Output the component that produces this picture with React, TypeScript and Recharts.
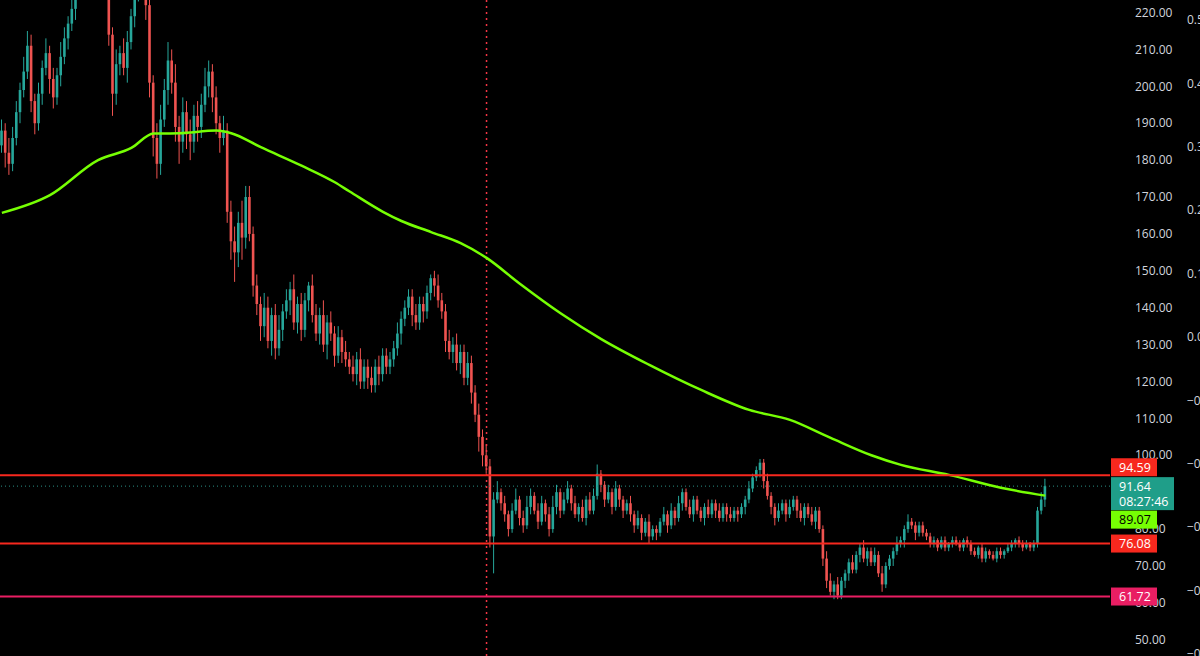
import React from 'react';
import { ComposedChart, Bar, Line, XAxis, YAxis, ReferenceLine } from 'recharts';

// ---- data ----
const OPEN0 = 184;
const closes: number[] = [
  188, 182, 179, 186,
  193, 199, 204,
  211, 196, 190,
  198, 205, 209, 202, 197, 203, 208,
  213, 217, 221, 226,
  229, 233, 231, 236, 234, 230, 233, 228,
  214, 198, 206,
  209, 205, 212, 219, 226,
  229, 227, 222,
  201, 186, 179,
  191, 199, 207, 201,
  189, 185, 193, 187, 185, 192, 189,
  195, 200, 204, 197,
  190, 186, 188,
  166,
  158, 155, 163, 159, 170,
  160, 146,
  141, 135, 140, 131, 138, 129, 134,
  139, 142, 145, 136, 141, 134, 142, 146, 138,
  133, 138, 130, 136, 133, 127, 132, 128, 126,
  124, 122, 126, 120, 124, 121, 119, 124, 122, 127, 124, 126,
  129, 133, 137, 140, 143,
  138, 136, 141, 139,
  144, 148, 146, 142,
  139, 131, 128,
  130, 125, 128, 121, 125,
  117, 111, 105, 100, 97,
  78,
  88, 90, 87, 84, 80, 85, 88, 83, 81, 86, 89, 85, 82, 87, 84, 80, 86, 90, 85, 88, 91,
  87, 84, 86, 83, 88, 85, 89,
  95, 92,
  88, 90, 86, 91, 88, 85,
  87, 84, 81, 83, 79, 82, 78, 80, 79,
  82, 84, 81, 85, 83, 87, 90, 86, 84, 88, 85,
  83, 86, 84, 87, 85, 83, 86, 84, 83, 85, 84,
  86, 88, 91, 94, 96, 98,
  93, 89, 86,
  83, 85, 87, 84, 86, 88, 85, 83, 86, 84, 82, 85,
  80, 72, 66,
  63, 65, 62, 66, 68,
  71, 69, 73, 75, 72, 74, 71, 73,
  68, 65, 70,
  72, 74, 76, 77, 80, 82, 81, 79, 81, 79,
  78, 76, 77, 75, 77, 75, 76, 77, 76, 75, 77, 76, 74, 73, 75, 72, 74, 73, 72, 74, 73, 74, 75, 76, 77, 76, 75, 76, 75, 76,
  85, 88, 91.64,
];

const wickUp: number[] = [
  3, 2, 4, 3,
  3, 2, 4,
  4, 3, 2,
  3, 2, 4, 2, 3, 2, 4,
  3, 2, 3, 2,
  3, 2, 3, 2, 3, 2, 3, 2,
  3, 2, 4,
  2, 4, 3, 2, 3,
  2, 3, 2,
  3, 2, 4,
  4, 3, 5, 3,
  5, 3, 4, 3, 4, 3, 4,
  3, 5, 3, 2,
  3, 2, 4,
  2,
  3, 4, 3, 6, 3,
  3, 2,
  3, 2, 4, 3, 2, 3, 4,
  2, 3, 2, 4, 2, 3, 2, 1, 3,
  3, 2, 4, 2, 3, 2, 3, 2, 3,
  2, 3, 2, 3, 2, 2, 3, 2, 3, 2, 2, 2,
  2, 3, 2, 2, 2,
  2, 3, 2, 2,
  2, 1, 2, 3,
  2, 2, 3,
  2, 3, 2, 2, 3,
  2, 2, 3, 2, 3,
  2,
  2, 3, 1, 2, 1, 2, 3, 1, 2, 3, 2, 1, 2, 2, 1, 2, 3, 2, 1, 2, 2,
  1, 2, 1, 2, 1, 2, 2,
  2.5, 1,
  1, 2, 1, 2, 1, 1,
  1, 2, 1, 2, 1, 1, 2, 1, 1,
  1, 2, 1, 2, 1, 2, 1, 1, 2, 1, 1,
  1, 1, 2, 1, 1, 2, 1, 1, 2, 1, 1,
  1, 1, 2, 1, 1, 1,
  1, 2, 1,
  1, 2, 1, 1, 2, 1, 1, 2, 1, 1, 2, 1,
  1, 1, 2,
  2, 1, 2, 1, 1,
  1, 2, 1, 1, 2, 1, 1, 2,
  1, 2, 1,
  1, 1, 2, 1, 1, 2, 1, 1, 1, 1,
  1, 1, 1, 0.5, 1, 1, 0.5, 1, 1, 1, 0.5, 1, 1, 1, 0.5, 1, 1, 0.5, 1, 1, 1, 0.5, 1, 1, 0.5, 1, 1, 1, 0.5, 1,
  1, 2, 2,
];

const wickDown: number[] = [
  2, 4, 3, 2,
  2, 3, 2,
  2, 3, 3,
  2, 3, 2, 4, 3, 2, 3,
  2, 3, 2, 3,
  2, 3, 2, 3, 2, 3, 2, 3,
  3, 6, 3,
  3, 2, 4, 2, 3,
  3, 2, 4,
  4, 5, 4,
  3, 2, 4, 3,
  4, 6, 3, 4, 5, 3, 4,
  3, 2, 3, 4,
  3, 4, 2,
  3,
  5, 8, 4, 6, 3,
  2, 3,
  3, 4, 3, 2, 4, 3, 2,
  3, 2, 4, 2, 3, 3, 2, 3, 2,
  2, 3, 2, 4, 2, 3, 2, 3, 2,
  2, 2, 3, 2, 2, 3, 2, 2, 3, 2, 2, 2,
  2, 2, 3, 2, 2,
  3, 2, 2, 3,
  2, 2, 3, 2,
  2, 3, 2,
  3, 2, 3, 2, 2,
  3, 2, 4, 3, 2,
  3,
  10, 1, 2, 2, 2, 1, 1, 2, 2, 1, 2, 1, 2, 1, 2, 2, 1, 2, 2, 1, 1,
  2, 1, 2, 1, 2, 1, 1,
  1, 2,
  2, 1, 2, 1, 2, 2,
  1, 2, 2, 1, 2, 1, 2, 1, 2,
  1, 1, 2, 1, 2, 1, 2, 1, 1, 2, 1,
  1, 2, 1, 1, 2, 1, 1, 2, 1, 1, 2,
  1, 2, 1, 1, 1, 2,
  2, 1, 2,
  2, 1, 1, 2, 1, 1, 2, 1, 2, 1, 1, 2,
  1, 2, 2,
  1, 2, 1, 1, 2,
  2, 1, 1, 2, 1, 2, 1, 1,
  1, 2, 1,
  1, 2, 1, 1, 2, 1, 1, 2, 1, 1,
  1, 1, 1, 1, 0.5, 1, 1, 1, 0.5, 1, 1, 1, 1, 0.5, 1, 1, 1, 1, 0.5, 1, 1, 1, 0.5, 1, 1, 1, 1, 0.5, 1, 1,
  1, 1, 2,
];

// moving average read at sample candles
const maIndex: number[] = [0, 13, 26, 35, 41, 48, 58, 62, 70, 81, 90, 94, 103, 108, 116, 124, 131, 140, 151, 162, 175, 189, 202, 213, 224, 235, 243, 256, 270, 282];
const maValue: number[] = [165.7, 170.5, 180, 183.3, 187.2, 187.3, 188, 187.3, 183.5, 178.5, 174, 171.5, 166, 163.5, 160.5, 157.5, 153.5, 146.5, 138.5, 131.5, 124.5, 117.7, 112.3, 109.6, 104.7, 100, 97.4, 94.7, 91.2, 89.07];

const priceTicks: number[] = [50, 60, 70, 80, 90, 100, 110, 120, 130, 140, 150, 160, 170, 180, 190, 200, 210, 220];
const oscTicks: number[] = [0.5, 0.4, 0.3, 0.2, 0.1, 0, -0.1, -0.2, -0.3, -0.4, -0.5];

const resistance = 94.59;
const support = 76.08;
const lowLevel = 61.72;
const lastPrice = 91.64;
const lastTime = '08:27:46';
const maLast = 89.07;
const markerIndex = 131;

// ---- build tables ----
const data = closes.map((c, i) => {
  const o = i === 0 ? OPEN0 : closes[i - 1];
  const hi = Math.max(o, c) + (wickUp[i] ?? 1);
  const lo = Math.min(o, c) - (wickDown[i] ?? 1);
  return { i, o, c, hi, lo, range: [lo, hi] };
});
const maData = maIndex.map((k, j) => ({ i: k, ma: maValue[j] }));

const W = 1200;
const H = 656;
const OSC_LABEL_X = W - 13;
const BULL = '#26a69a';
const BEAR = '#ef5350';
const FONT = '"Open Sans", "Noto Sans", sans-serif';

const Candle = (props: any) => {
  const { x, y, width, height, payload } = props;
  if (payload == null || x == null || y == null) return <g />;
  const top = Math.min(y, y + height);
  const h = Math.abs(height);
  const { o, c, hi, lo } = payload;
  const ratio = hi - lo === 0 ? 0 : h / (hi - lo);
  const cx = x + width / 2;
  const yOf = (v: number) => top + (hi - v) * ratio;
  const color = c >= o ? BULL : BEAR;
  const bTop = yOf(Math.max(o, c));
  const bBot = yOf(Math.min(o, c));
  return (
    <g>
      <line x1={cx} x2={cx} y1={top} y2={top + h} stroke={color} strokeWidth={1} />
      <rect x={cx - 1.3} y={bTop} width={2.6} height={Math.max(1, bBot - bTop)} fill={color} />
    </g>
  );
};

const PriceTick = (props: any) => {
  const { x, y, payload } = props;
  if (payload.value === 90) return <g />;
  return (
    <text x={x + 2} y={y} dy="0.35em" fill="#d1d4dc" fontSize={12} fontFamily={FONT} textAnchor="start">
      {Number(payload.value).toFixed(2)}
    </text>
  );
};

const OscTick = (props: any) => {
  const { y, payload } = props;
  const v = Number(payload.value);
  const s = (v < 0 ? '\u2212' : '') + Math.abs(v).toFixed(2);
  return (
    <text x={OSC_LABEL_X} y={y} dy="0.35em" fill="#d1d4dc" fontSize={12} fontFamily={FONT} textAnchor="start">
      {s}
    </text>
  );
};

const Tag = (props: any) => {
  const { viewBox, text, sub, bg, fg, dy } = props;
  if (!viewBox) return <g />;
  const left = viewBox.x + viewBox.width + 1;
  const top = viewBox.y + dy - 9;
  const h = sub ? 33 : 18;
  const w = sub ? 63 : 46;
  return (
    <g>
      <rect x={left} y={top} width={w} height={h} fill={bg} />
      <text x={left + 8} y={top + 9.5} dy="0.35em" fill={fg} fontSize={12.5} fontFamily={FONT}>
        {text}
      </text>
      {sub ? (
        <text x={left + 8} y={top + 24} dy="0.35em" fill={fg} fontSize={12.5} fontFamily={FONT}>
          {sub}
        </text>
      ) : null}
    </g>
  );
};

export default function App() {
  const z: any = { zIndex: 3000 };
  return (
    <div style={{ position: 'absolute', left: 0, top: 0, width: W, height: H, background: '#000' }}>
      <ComposedChart
        width={W}
        height={H}
        data={data}
        margin={{ top: 0, right: 0, bottom: 0, left: 0 }}
        style={{ background: '#000' }}
      >
        <XAxis type="number" dataKey="i" domain={[-0.5, 299.5]} hide allowDataOverflow />
        <YAxis
          yAxisId="p"
          orientation="right"
          domain={[45.6, 223.4]}
          ticks={priceTicks}
          allowDataOverflow
          width={75}
          axisLine={false}
          tickLine={false}
          tickSize={0}
          tickMargin={8}
          tick={PriceTick}
          interval={0}
        />
        <YAxis
          yAxisId="o"
          orientation="right"
          domain={[-0.503, 0.5315]}
          ticks={oscTicks}
          allowDataOverflow
          width={15}
          axisLine={false}
          tickLine={false}
          tickSize={0}
          tickMargin={2}
          tick={OscTick}
          interval={0}
        />
        <ReferenceLine yAxisId="p" x={markerIndex} stroke="#f23645" strokeDasharray="2 4" strokeWidth={1.5} />
        <ReferenceLine yAxisId="p" y={lastPrice} stroke="#2a8f83" strokeDasharray="1 3" strokeWidth={1} />
        <Bar yAxisId="p" dataKey="range" barSize={3} shape={(p: any) => <Candle {...p} />} isAnimationActive={false} />
        <Line yAxisId="p" data={maData} dataKey="ma" type="monotone" stroke="#76ff03" strokeWidth={2.5} dot={false} activeDot={false} isAnimationActive={false} />
        <ReferenceLine yAxisId="p" y={resistance} stroke="#f7281e" strokeWidth={2} />
        <ReferenceLine yAxisId="p" y={support} stroke="#f7281e" strokeWidth={2} />
        <ReferenceLine yAxisId="p" y={lowLevel} stroke="#e91e63" strokeWidth={2} />
        <ReferenceLine yAxisId="p" y={resistance} stroke="none" {...z}
          label={(p: any) => <Tag {...p} text={resistance.toFixed(2)} bg="#f7281e" fg="#ffffff" dy={-8} />} />
        <ReferenceLine yAxisId="p" y={lastPrice} stroke="none" {...z}
          label={(p: any) => <Tag {...p} text={lastPrice.toFixed(2)} sub={lastTime} bg="#1f9e89" fg="#ffffff" dy={0} />} />
        <ReferenceLine yAxisId="p" y={maLast} stroke="none" {...z}
          label={(p: any) => <Tag {...p} text={maLast.toFixed(2)} bg="#76ff03" fg="#000000" dy={24} />} />
        <ReferenceLine yAxisId="p" y={support} stroke="none" {...z}
          label={(p: any) => <Tag {...p} text={support.toFixed(2)} bg="#f7281e" fg="#ffffff" dy={0} />} />
        <ReferenceLine yAxisId="p" y={lowLevel} stroke="none" {...z}
          label={(p: any) => <Tag {...p} text={lowLevel.toFixed(2)} bg="#e91e63" fg="#ffffff" dy={0} />} />
      </ComposedChart>
    </div>
  );
}
